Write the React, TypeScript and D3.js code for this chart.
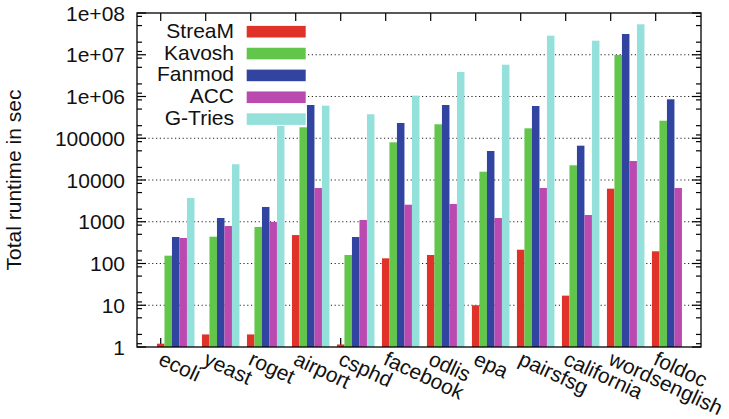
import React, { useRef, useEffect } from "react";
import * as d3 from "d3";

// Datos
const categories = [
  "ecoli",
  "yeast",
  "roget",
  "airport",
  "csphd",
  "facebook",
  "odlis",
  "epa",
  "pairsfsg",
  "california",
  "wordsenglish",
  "foldoc",
];
const seriesNames = ["StreaM", "Kavosh", "Fanmod", "ACC", "G-Tries"];
const seriesColors = ["#e1322a", "#62c64a", "#3044a0", "#ba4ab0", "#94e0da"];

const stream = [1.2, 2, 2, 480, 1.15, 133, 160, 10, 214, 17, 6200, 196];
const kavosh = [154, 438, 750, 183000, 160, 80000, 216000, 15800, 173000, 22500, 9.9e6, 263000];
const fanmod = [431, 1230, 2260, 626000, 431, 232000, 626000, 49500, 592000, 66400, 3.14e7, 857000];
const acc = [408, 790, 990, 6430, 1100, 2560, 2660, 1230, 6430, 1450, 28500, 6430];
const gtries = [3700, 23800, 196000, 603000, 375000, 1.05e6, 3.86e6, 5.78e6, 2.86e7, 2.17e7, 5.36e7, null];

const yTickValues = [1, 10, 100, 1000, 10000, 100000, 1e6, 1e7, 1e8];
const yTickLabels = ["1", "10", "100", "1000", "10000", "100000", "1e+06", "1e+07", "1e+08"];
const minorMultipliers = [1.2, 2, 5, 8.3];

const FONT = "'Liberation Sans', Arial, Helvetica, sans-serif";

const RuntimeChart = ({ width = 729, height = 419 }) => {
  const d3Container = useRef(null);

  useEffect(() => {
    const container = d3Container.current;
    const margin = { top: 13, right: 28, bottom: 72, left: 137 },
      chart_width = width - margin.left - margin.right,
      chart_height = height - margin.top - margin.bottom;

    if (!container) return;
    d3.select(container).selectChildren().remove();

    const svg = d3
      .select(container)
      .append("g")
      .style("font-family", FONT)
      .style("font-size", "21px")
      .attr("transform", `translate(${margin.left}, ${margin.top})`);

    const series = [stream, kavosh, fanmod, acc, gtries];

    // Escalas
    const x = d3
      .scaleLinear()
      .domain([-0.527, categories.length + 0.007])
      .range([0, chart_width]);
    const barWidth = (x(1) - x(0)) / 6;

    const y = d3.scaleLog().domain([1, 1e8]).range([chart_height, 0]);

    // Rejilla punteada
    svg
      .append("g")
      .selectAll("line")
      .data(yTickValues.slice(1, -1))
      .join("line")
      .attr("x1", 0)
      .attr("x2", chart_width)
      .attr("y1", (d) => y(d))
      .attr("y2", (d) => y(d))
      .attr("stroke", "#222")
      .attr("stroke-width", 1)
      .attr("stroke-dasharray", "1.2,2.6");

    // Marcas inferiores del eje X (bajo las barras)
    svg
      .append("g")
      .selectAll("line")
      .data(categories)
      .join("line")
      .attr("x1", (_d, i) => x(i))
      .attr("x2", (_d, i) => x(i))
      .attr("y1", chart_height)
      .attr("y2", chart_height - 9)
      .attr("stroke", "black")
      .attr("stroke-width", 1.2);

    // Barras
    series.forEach((values, j) => {
      svg
        .append("g")
        .selectAll("rect")
        .data(values.map((v, i) => ({ v, i })).filter((d) => d.v !== null))
        .join("rect")
        .attr("x", (d) => x(d.i) + (j - 0.5) * barWidth)
        .attr("y", (d) => y(d.v))
        .attr("width", barWidth)
        .attr("height", (d) => chart_height - y(d.v))
        .attr("fill", seriesColors[j]);
    });

    // Leyenda (caja opaca)
    const legend = svg.append("g");
    legend
      .append("rect")
      .attr("x", 0)
      .attr("y", 0)
      .attr("width", 169)
      .attr("height", 113)
      .attr("fill", "white");

    const rowY = (k) => 18.7 + k * 21.85;
    legend
      .selectAll("text")
      .data(seriesNames)
      .join("text")
      .attr("x", 97)
      .attr("y", (_d, k) => rowY(k) + 6)
      .attr("text-anchor", "end")
      .attr("fill", "#111")
      .text((d) => d);
    legend
      .selectAll("rect.sw")
      .data(seriesNames)
      .join("rect")
      .attr("class", "sw")
      .attr("x", 109.7)
      .attr("y", (_d, k) => rowY(k) - 5.8)
      .attr("width", 59)
      .attr("height", 11.6)
      .attr("fill", (_d, k) => seriesColors[k]);

    // Marcas del eje Y (izquierda y derecha)
    const minorTicks = yTickValues
      .slice(0, -1)
      .flatMap((d) => minorMultipliers.map((m) => d * m));
    const ticks = svg.append("g").attr("stroke", "black").attr("stroke-width", 1.2);
    [0, chart_width].forEach((x0) => {
      const dir = x0 === 0 ? 1 : -1;
      ticks
        .append("g")
        .selectAll("line")
        .data(yTickValues)
        .join("line")
        .attr("x1", x0)
        .attr("x2", x0 + dir * 9)
        .attr("y1", (d) => y(d))
        .attr("y2", (d) => y(d));
      ticks
        .append("g")
        .selectAll("line")
        .data(minorTicks)
        .join("line")
        .attr("x1", x0)
        .attr("x2", x0 + dir * 5)
        .attr("y1", (d) => y(d))
        .attr("y2", (d) => y(d));
    });

    // Marcas superiores del eje X
    ticks
      .append("g")
      .selectAll("line")
      .data(categories)
      .join("line")
      .attr("x1", (_d, i) => x(i))
      .attr("x2", (_d, i) => x(i))
      .attr("y1", 0)
      .attr("y2", 8);

    // Marco
    svg
      .append("rect")
      .attr("x", 0)
      .attr("y", 0)
      .attr("width", chart_width)
      .attr("height", chart_height)
      .attr("fill", "none")
      .attr("stroke", "black")
      .attr("stroke-width", 1.3);

    // Etiquetas del eje Y
    svg
      .append("g")
      .selectAll("text")
      .data(yTickValues)
      .join("text")
      .attr("x", -12)
      .attr("y", (d) => y(d) + 7.5)
      .attr("text-anchor", "end")
      .attr("fill", "#111")
      .text((_d, i) => yTickLabels[i]);

    // Etiquetas del eje X (giradas)
    svg
      .append("g")
      .selectAll("text")
      .data(categories)
      .join("text")
      .attr(
        "transform",
        (_d, i) => `translate(${x(i) - 3.5}, ${chart_height + 17}) rotate(25)`
      )
      .attr("text-anchor", "start")
      .attr("fill", "#111")
      .text((d) => d);

    // Rótulo eje Y (girado)
    svg
      .append("text")
      .attr(
        "transform",
        `translate(${21 - margin.left}, ${chart_height / 2}) rotate(-90)`
      )
      .attr("text-anchor", "middle")
      .attr("fill", "#111")
      .text("Total runtime in sec");
  }, [width, height]);

  return (
    <svg
      width={width}
      height={height}
      ref={d3Container}
      style={{ position: "absolute", left: 0, top: 0, background: "white" }}
    />
  );
};

export default function App() {
  return <RuntimeChart />;
}
